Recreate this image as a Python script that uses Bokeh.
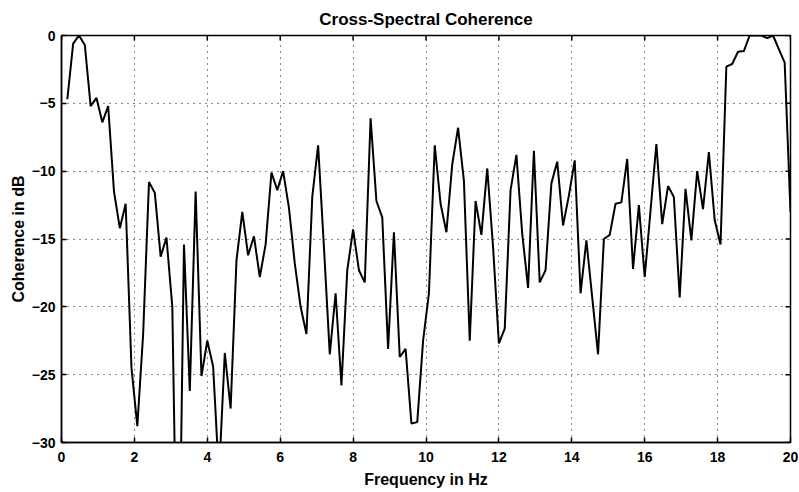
import numpy as np
from bokeh.plotting import figure
from bokeh.models import Range1d, FixedTicker, Title
from bokeh.embed import file_html
from bokeh.resources import INLINE

# Frequency bins (Hz), uniform spectral grid
freq = np.round(np.arange(1, 126) * 0.16, 2)

coherence_db = [
    -4.7, -0.6, 0.0, -0.7, -5.2, -4.6, -6.4, -5.2, -11.5, -14.2,
    -12.4, -24.5, -28.8, -22.0, -10.8, -11.6, -16.3, -14.9, -20.0, -46.0,
    -15.4, -26.2, -11.5, -25.1, -22.5, -24.4, -32.5, -23.4, -27.5, -16.6,
    -13.0, -16.2, -14.8, -17.8, -15.4, -10.1, -11.4, -10.0, -12.7, -16.8,
    -20.0, -22.0, -11.9, -8.1, -15.6, -23.5, -19.0, -25.8, -17.3, -14.3,
    -17.3, -18.2, -6.1, -12.2, -13.4, -23.1, -14.5, -23.7, -23.1, -28.6,
    -28.5, -22.5, -19.0, -8.1, -12.4, -14.5, -9.5, -6.8, -10.7, -22.5,
    -12.2, -14.7, -9.8, -15.6, -22.7, -21.6, -11.4, -8.8, -14.6, -18.6,
    -8.5, -18.2, -17.3, -10.9, -9.3, -14.0, -11.8, -9.2, -19.0, -15.1,
    -19.3, -23.5, -15.0, -14.7, -12.4, -12.3, -9.1, -17.2, -12.5, -17.8,
    -12.9, -8.0, -13.9, -11.1, -11.9, -19.3, -11.3, -15.1, -10.0, -12.8,
    -8.6, -13.6, -15.4, -2.3, -2.1, -1.2, -1.15, 0.0, 0.0, 0.0,
    -0.2, 0.0, -1.0, -2.0, -13.0,
]

x_ticks = [0, 2, 4, 6, 8, 10, 12, 14, 16, 18, 20]
y_ticks = [-30, -25, -20, -15, -10, -5, 0]

title_text = "Cross-Spectral Coherence"
x_label = "Frequency in Hz"
y_label = "Coherence in dB"

FONT = "Liberation Sans"
X0, X1, Y0, Y1 = 0, 20, -30, 0

p = figure(width=799, height=492, output_backend="svg", toolbar_location=None,
           x_range=Range1d(X0, X1), y_range=Range1d(Y0, Y1),
           min_border_left=61, min_border_right=9, min_border_top=35, min_border_bottom=50,
           background_fill_color="white", border_fill_color="white")

p.title = Title(text=title_text, align="center", text_font=FONT,
                text_font_size="17px", text_font_style="bold", text_color="black",
                standoff=14)

p.outline_line_color = "black"
p.outline_line_width = 1.5

for ax, ticks in ((p.xaxis[0], x_ticks), (p.yaxis[0], y_ticks)):
    ax.ticker = FixedTicker(ticks=ticks)
    ax.major_label_text_font = FONT
    ax.major_label_text_font_style = "bold"
    ax.major_label_text_font_size = "14px"
    ax.major_label_text_color = "black"
    ax.axis_label_text_font = FONT
    ax.axis_label_text_font_style = "bold"
    ax.axis_label_text_font_size = "16px"
    ax.axis_label_text_color = "black"
    ax.major_tick_in = 5
    ax.major_tick_out = 0
    ax.minor_tick_line_color = None
    ax.major_tick_line_color = "black"
    ax.major_tick_line_width = 1.5
    ax.axis_line_color = "black"
    ax.axis_line_width = 1.5

p.xaxis[0].axis_label = x_label
p.yaxis[0].axis_label = y_label
p.xaxis[0].major_label_standoff = 9
p.yaxis[0].major_label_standoff = 6
p.xaxis[0].axis_label_standoff = 6
p.yaxis[0].axis_label_standoff = 2

p.xgrid.ticker = FixedTicker(ticks=x_ticks)
p.ygrid.ticker = FixedTicker(ticks=y_ticks)
for g in (p.xgrid[0], p.ygrid[0]):
    g.grid_line_color = "black"
    g.grid_line_dash = "1 5"
    g.grid_line_width = 1
    g.grid_line_alpha = 0.9

# inward tick marks on the top and right edges of the box (5 px long)
frame_w, frame_h = 799 - 61 - 9, 492 - 35 - 50
dy = 5 * (Y1 - Y0) / frame_h
dx = 5 * (X1 - X0) / frame_w
p.segment(x0=x_ticks, y0=[Y1] * len(x_ticks), x1=x_ticks, y1=[Y1 - dy] * len(x_ticks),
          line_color="black", line_width=1.5)
p.segment(x0=[X1] * len(y_ticks), y0=y_ticks, x1=[X1 - dx] * len(y_ticks), y1=y_ticks,
          line_color="black", line_width=1.5)

p.line(freq, coherence_db, line_color="black", line_width=2)

open("out.html", "w").write(file_html(p, INLINE))
